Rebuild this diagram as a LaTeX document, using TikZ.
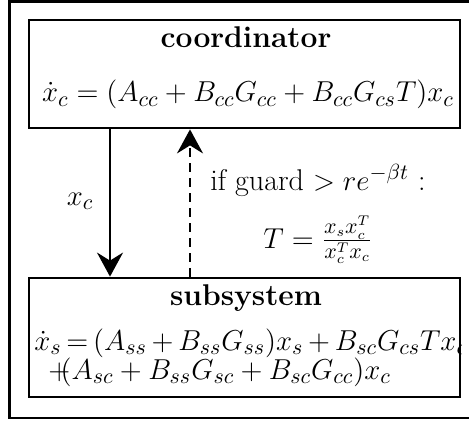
\documentclass[tikz,border=0pt]{standalone}
\usepackage{amsmath}
\usetikzlibrary{arrows.meta}
\newcommand{\tplus}{\mskip3mu{+}\mskip3mu}
\begin{document}
\begin{tikzpicture}[x=0.5pt,y=-0.5pt,
  frame/.style={draw=black,line width=1.2pt},
  box/.style={draw=black,line width=1.4pt,rectangle,inner sep=0pt},
  txt/.style={inner sep=0pt,font=\fontsize{15}{18}\selectfont},
  ttl/.style={inner sep=0pt,font=\fontsize{15}{18}\selectfont\bfseries},
  flow/.style={line width=1.1pt,-{Stealth[length=12pt,width=13pt,inset=4pt]}}]
\useasboundingbox (0,0) rectangle (469,422);
\draw[frame] (469,1.5) -- (9.5,1.5) -- (9.5,418) -- (469,418);
\node[box,minimum width=215.5pt,minimum height=54pt] (coord) at (244.5,74) {};
\node[box,minimum width=215.5pt,minimum height=59.5pt] (sub) at (244.5,337.5) {};
\node[ttl,anchor=base] (ctitle) at (246,48) {coordinator};
\node[txt,anchor=base] (ceq) at (248,102) {$\dot x_c = (A_{cc}+B_{cc}G_{cc}+B_{cc}G_{cs}T)x_c$};
\node[ttl,anchor=base] (stitle) at (246,305) {subsystem};
\begin{scope}
\clip (sub.south west) rectangle (sub.north east);
\node[txt,anchor=base west] (seq1) at (34,350) {$\dot x_s{\,=\,}(A_{ss}\tplus B_{ss}G_{ss})x_s\tplus B_{sc}G_{cs}Tx_c$};
\end{scope}
\node[txt,anchor=base west] (seq2) at (48,379) {$+\!\!(A_{sc}+B_{ss}G_{sc}+B_{sc}G_{cc})x_c$};
\draw[flow] (110,0 |- coord.south) -- (110,0 |- sub.north);
\draw[flow,dash pattern=on 4.5pt off 3pt] (190,0 |- sub.north) -- (190,0 |- coord.south);
\node[txt,anchor=base] (lxc) at (80,205) {$x_c$};
\node[txt,anchor=base] (guard) at (318,190) {if guard $> re^{-\beta t}$ :};
\node[txt,anchor=base] (teq) at (318,248) {$T = \frac{x_s x_c^T}{x_c^T x_c}$};
\end{tikzpicture}
\end{document}
